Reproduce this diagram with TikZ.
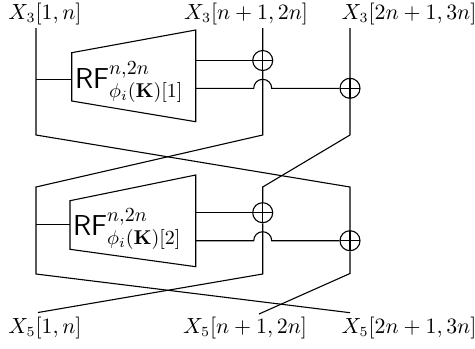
\documentclass[tikz,border=0pt]{standalone}
\usepackage{amsmath}
\begin{document}
\begin{tikzpicture}[x=0.5pt,y=-0.5pt,line width=0.55pt,
  wire/.style={draw=black,line join=miter},
  lbl/.style={inner sep=0pt,font=\fontsize{10.5}{12}\selectfont},
  rf/.style={inner sep=0pt,anchor=base west,font=\Large},
  xorn/.style={circle,draw,minimum size=10pt,inner sep=0pt,
    path picture={\draw (path picture bounding box.north) -- (path picture bounding box.south)
      (path picture bounding box.west) -- (path picture bounding box.east);}},
  box/.style={draw=black}]
\useasboundingbox (0,0) rectangle (475,348);
% labels
\node[lbl] (t1) at (45,14) {$X_3[1,n]$};
\node[lbl] (t2) at (246,14) {$X_3[n+1,2n]$};
\node[lbl] (t3) at (409,14) {$X_3[2n+1,3n]$};
\node[lbl] (b1) at (45,328) {$X_5[1,n]$};
\node[lbl] (b2) at (245,328) {$X_5[n+1,2n]$};
\node[lbl] (b3) at (409,328) {$X_5[2n+1,3n]$};
% wire points
\coordinate (a1) at (36,28); \coordinate (a2) at (262.7,28); \coordinate (a3) at (350,28);
\coordinate (c1) at (36,135); \coordinate (c2) at (262.7,135); \coordinate (c3) at (350,135);
\coordinate (d1) at (36,187); \coordinate (d2) at (262.7,187); \coordinate (d3) at (350,187);
\coordinate (e1) at (36,274); \coordinate (e2) at (262.7,274); \coordinate (e3) at (350,273.5);
\coordinate (f1) at (38,312.5); \coordinate (f2) at (259,314); \coordinate (f3) at (350,312.7);
% upper block
\coordinate (u1) at (71.7,52.7); \coordinate (u2) at (195.7,30);
\coordinate (u3) at (195.7,121.7); \coordinate (u4) at (71.7,101);
\draw[box] (u1) -- (u2) -- (u3) -- (u4) -- cycle;
\node[rf] (rf1) at (74.5,88) {$\textsf{RF}^{n,2n}_{\phi_i(\mathbf{K})[1]}$};
\coordinate (ui) at (71.7,79.3); \coordinate (uin) at (36,79.3);
\coordinate (uo1) at (195.7,60.5); \coordinate (uo2) at (195.7,88.3);
\node[xorn] (xa) at (262.7,60.5) {};
\node[xorn] (xb) at (350,88.3) {};
% lower block
\coordinate (l1) at (70,200.7); \coordinate (l2) at (195.7,175);
\coordinate (l3) at (195.7,266.7); \coordinate (l4) at (70,249.3);
\draw[box] (l1) -- (l2) -- (l3) -- (l4) -- cycle;
\node[rf] (rf2) at (72.5,235) {$\textsf{RF}^{n,2n}_{\phi_i(\mathbf{K})[2]}$};
\coordinate (li) at (70,224.5); \coordinate (lin) at (36,224.5);
\coordinate (lo1) at (195.7,212.7); \coordinate (lo2) at (195.7,240.7);
\node[xorn] (xc) at (262.7,212.7) {};
\node[xorn] (xd) at (350,240.7) {};
% wires
\draw[wire] (a1) -- (c1) -- (d3) -- (xd.north) (xd.south) -- (e3) -- (f2);
\draw[wire] (a2) -- (xa.north) (xa.south) -- (c2) -- (d1) -- (e1) -- (f3);
\draw[wire] (a3) -- (xb.north) (xb.south) -- (c3) -- (d2) -- (xc.north) (xc.south) -- (e2) -- (f1);
% block connections
\draw[wire] (uin) -- (ui);
\draw[wire] (uo1) -- (xa.west);
\draw[wire] (uo2) -- ([xshift=-4.5pt]uo2 -| xa.center) arc[start angle=180,end angle=0,radius=4.5pt] -- (xb.west);
\draw[wire] (lin) -- (li);
\draw[wire] (lo1) -- (xc.west);
\draw[wire] (lo2) -- ([xshift=-4.5pt]lo2 -| xc.center) arc[start angle=180,end angle=0,radius=4.5pt] -- (xd.west);
\end{tikzpicture}
\end{document}
